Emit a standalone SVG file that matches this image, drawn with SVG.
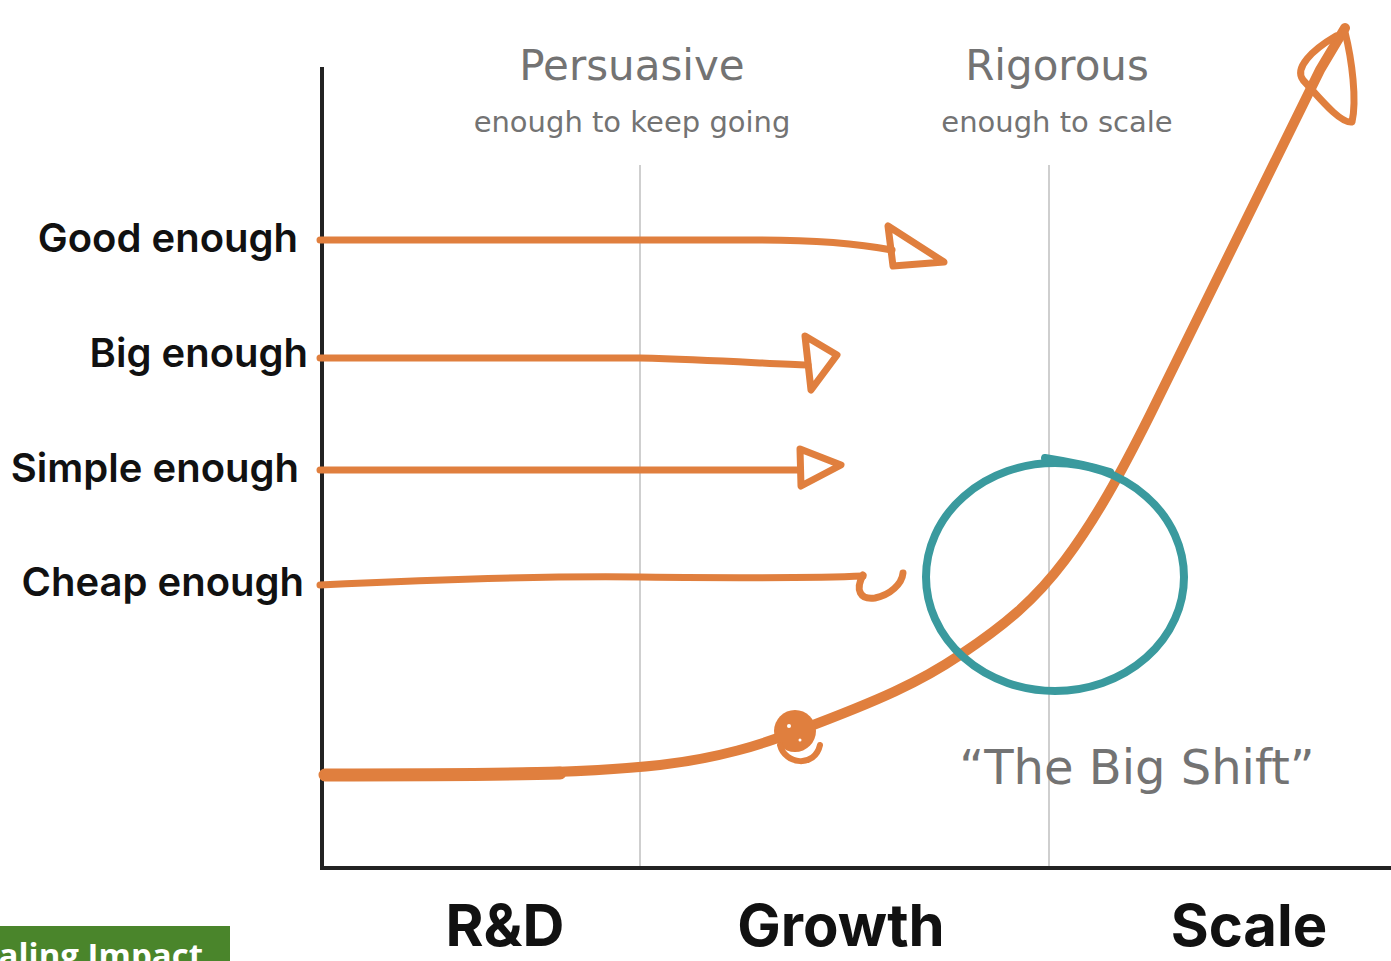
<svg xmlns="http://www.w3.org/2000/svg" width="1391" height="961" viewBox="0 0 1391 961">
<style>
.lbl{font-family:Inter,"Liberation Sans",sans-serif;font-weight:600;font-size:40px;fill:#111;text-anchor:end}
.phase{font-family:Inter,"Liberation Sans",sans-serif;font-weight:700;font-size:58px;fill:#111;text-anchor:middle}
.hand{font-family:"DejaVu Sans","Liberation Sans",sans-serif;font-weight:400;fill:#737373;text-anchor:middle}
.or{fill:none;stroke:#E07F3E;stroke-width:7;stroke-linecap:round;stroke-linejoin:round}
.grid{stroke:#cfcfcf;stroke-width:2}
</style>
<rect width="1391" height="961" fill="#fff"/>
<g id="axes">
<line class="grid" x1="640" y1="165" x2="640" y2="868"/>
<line class="grid" x1="1049" y1="165" x2="1049" y2="868"/>
<path d="M322 67 V868 H1391" fill="none" stroke="#222" stroke-width="4"/>
</g>
<g id="headings">
<text class="hand" x="632" y="80" font-size="42">Persuasive</text>
<text class="hand" x="632" y="132" font-size="29">enough to keep going</text>
<text class="hand" x="1057" y="80" font-size="42">Rigorous</text>
<text class="hand" x="1057" y="132" font-size="29">enough to scale</text>
<text class="hand" x="1137" y="784" font-size="48">“The Big Shift”</text>
</g>
<g id="labels">
<text class="lbl" x="298" y="252">Good enough</text>
<text class="lbl" x="308" y="367">Big enough</text>
<text class="lbl" x="299" y="482">Simple enough</text>
<text class="lbl" x="304" y="596">Cheap enough</text>
</g>
<g id="phases">
<text class="phase" x="505" y="946">R&amp;D</text>
<text class="phase" x="841" y="946">Growth</text>
<text class="phase" x="1249" y="946">Scale</text>
</g>
<g id="connectors">
<path class="or" d="M320 240 H760 C820 240 860 244 892 250"/>
<path class="or" d="M888 226 L893 266 L944 262 Z"/>
<path class="or" d="M320 358 H640 C720 360 770 364 808 365"/>
<path class="or" d="M805 336 L837 355 L811 390 Z"/>
<path class="or" d="M320 470 H800"/>
<path class="or" d="M800 449 L841 465 L801 486 Z"/>
<path class="or" d="M320 585 C420 580 540 576 640 577 C740 578 820 578 863 576"/>
<path class="or" d="M863 575 C855 590 860 600 875 598 C890 595 902 584 903 573"/>
<path d="M325 775 C450 775 580 774 660 765 C720 758 760 745 800 730 C880 700 920 682 960 655 C1005 625 1035 600 1065 560 C1095 520 1120 475 1150 415 L1320 70 L1345 28" fill="none" stroke="#E07F3E" stroke-width="10" stroke-linecap="round"/>
<path d="M325 775 C420 775 500 775 560 773" fill="none" stroke="#E07F3E" stroke-width="13" stroke-linecap="round"/>
<path class="or" stroke-width="9" d="M1336 36 C1312 50 1294 68 1303 80 C1318 96 1340 124 1352 122 C1357 100 1352 60 1345 32"/>
<circle cx="795" cy="731" r="21" fill="#E07F3E"/>
<path d="M780 745 C785 765 815 768 820 745" fill="none" stroke="#E07F3E" stroke-width="6" stroke-linecap="round"/>
<circle cx="789" cy="726" r="2" fill="#fff"/>
<circle cx="800" cy="740" r="1.5" fill="#fff"/>
<ellipse cx="1055" cy="577" rx="129" ry="114" fill="none" stroke="#3A9A9E" stroke-width="8"/>
<path d="M1045 458 C1070 462 1090 466 1110 472" fill="none" stroke="#3A9A9E" stroke-width="8" stroke-linecap="round"/>
</g>
<g id="badge">
<rect x="0" y="926" width="230" height="35" fill="#4A852B"/>
<text x="203" y="967" font-family="'Open Sans','Liberation Sans',sans-serif" font-weight="700" font-size="33" fill="#fff" text-anchor="end">Scaling Impact</text>
</g>
</svg>
